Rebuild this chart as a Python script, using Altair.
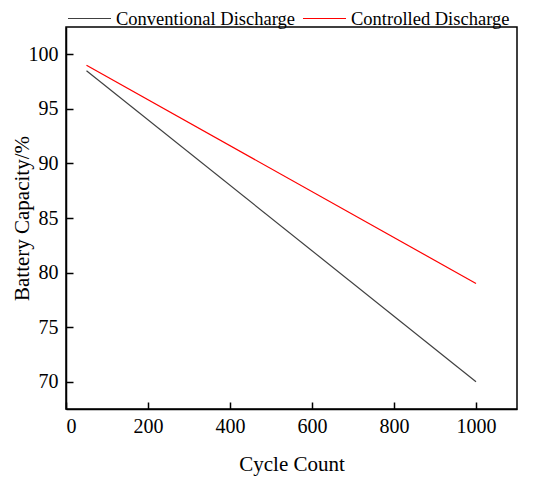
import altair as alt
import pandas as pd

cycles = [50, 1000]
conventional = [98.5, 70.0]
controlled = [99.0, 79.0]
series_names = ["Conventional Discharge", "Controlled Discharge"]
colors = ["#404040", "#ff0000"]

rows = []
for c, v in zip(cycles, conventional):
    rows.append({"Cycle": c, "Capacity": v, "Series": series_names[0]})
for c, v in zip(cycles, controlled):
    rows.append({"Cycle": c, "Capacity": v, "Series": series_names[1]})
df = pd.DataFrame(rows)

FONT = "Liberation Serif"

chart = alt.Chart(df).mark_line(strokeWidth=1.2).encode(
    x=alt.X("Cycle:Q", title="Cycle Count",
            scale=alt.Scale(domain=[0, 1100], nice=False, zero=False),
            axis=alt.Axis(values=[0, 200, 400, 600, 800, 1000], grid=False, format="d",
                          tickSize={"expr": "-7"}, labelPadding=14, titlePadding=17)),
    y=alt.Y("Capacity:Q", title="Battery Capacity/%",
            scale=alt.Scale(domain=[67.5, 102.5], nice=False, zero=False),
            axis=alt.Axis(values=[70, 75, 80, 85, 90, 95, 100], grid=False,
                          tickSize={"expr": "-7"}, labelPadding=15, titleX=-34)),
    color=alt.Color("Series:N", sort=series_names,
                    scale=alt.Scale(domain=series_names, range=colors),
                    legend=alt.Legend(title=None, orient="none", direction="horizontal",
                                      legendX=1, legendY=-31, symbolType="stroke",
                                      symbolSize=1850, symbolStrokeWidth=1.2,
                                      labelFontSize=18.5, labelFont=FONT, labelLimit=400,
                                      labelColor="black", columnPadding=5,
                                      labelOffset=4)),
).properties(
    width=451, height=382,
    autosize=alt.AutoSizeParams(type="none"),
    padding={"left": 58, "top": 19, "right": 20, "bottom": 70},
).configure_axis(
    labelFont=FONT, titleFont=FONT, labelFontSize=20, titleFontSize=21,
    labelColor="black", titleColor="black", titleFontWeight="normal",
    domainColor="black", tickColor="black", domainWidth=1.5, tickWidth=1.5,
).configure_view(
    stroke="black", strokeWidth=1.5,
)

chart.save("out.html", embed_options={"renderer": "svg", "actions": False})
